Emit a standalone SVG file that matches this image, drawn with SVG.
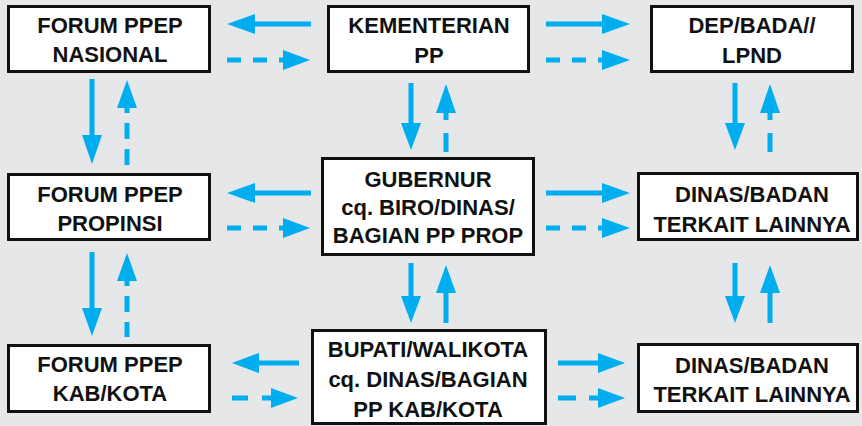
<svg xmlns="http://www.w3.org/2000/svg" width="862" height="426" viewBox="0 0 862 426">
<style>
.box{fill:#fff;stroke:#111;stroke-width:3}
.t{font-family:"Liberation Sans",Arial,sans-serif;font-weight:bold;font-size:22px;fill:#111;text-anchor:middle}
.ln{stroke:#00aeef;stroke-width:5;fill:none}
.dh{stroke:#00aeef;stroke-width:5;fill:none;stroke-dasharray:14 12}
.dv{stroke:#00aeef;stroke-width:5;fill:none;stroke-dasharray:16 10;stroke-dashoffset:10}
.hd{fill:#00aeef}
</style>
<rect width="862" height="426" fill="#e6e7e9"/>
<g id="connectors">
<!-- row 1 -->
<line class="ln" x1="311" y1="24" x2="255" y2="24"/><polygon class="hd" points="255,14 227,24 255,34"/>
<line class="dh" x1="227" y1="60" x2="283" y2="60"/><polygon class="hd" points="283,50 310,60 283,70"/>
<line class="ln" x1="546" y1="24" x2="603" y2="24"/><polygon class="hd" points="602,14 630,24 602,34"/>
<line class="dh" x1="546" y1="60" x2="603" y2="60"/><polygon class="hd" points="602,50 630,60 602,70"/>
<!-- row 2 -->
<line class="ln" x1="311" y1="193" x2="255" y2="193"/><polygon class="hd" points="255,183 227,193 255,203"/>
<line class="dh" x1="227" y1="228" x2="283" y2="228"/><polygon class="hd" points="283,218 310,228 283,238"/>
<line class="ln" x1="546" y1="193" x2="603" y2="193"/><polygon class="hd" points="602,183 630,193 602,203"/>
<line class="dh" x1="546" y1="228" x2="603" y2="228"/><polygon class="hd" points="602,218 630,228 602,238"/>
<!-- row 3 -->
<line class="ln" x1="299" y1="363" x2="258" y2="363"/><polygon class="hd" points="259,353 232,363 259,373"/>
<line class="dh" x1="232" y1="398" x2="271" y2="398" style="stroke-dasharray:16 14"/><polygon class="hd" points="271,388 298,398 271,408"/>
<line class="ln" x1="558" y1="363" x2="599" y2="363"/><polygon class="hd" points="598,353 625,363 598,373"/>
<line class="dh" x1="558" y1="398" x2="599" y2="398" style="stroke-dasharray:18 13"/><polygon class="hd" points="598,388 625,398 598,408"/>
<!-- col 1 -->
<line class="ln" x1="92" y1="79" x2="92" y2="136"/><polygon class="hd" points="82,135 92,164 102,135"/>
<line class="dv" x1="127" y1="107" x2="127" y2="165"/><polygon class="hd" points="117,108 127,80 137,108"/>
<line class="ln" x1="92" y1="252" x2="92" y2="309"/><polygon class="hd" points="82,308 92,336 102,308"/>
<line class="dv" x1="127" y1="280" x2="127" y2="337"/><polygon class="hd" points="117,281 127,253 137,281"/>
<!-- col 2 -->
<line class="ln" x1="411" y1="83" x2="411" y2="124"/><polygon class="hd" points="401,123 411,150 421,123"/>
<line class="dv" x1="446" y1="112" x2="446" y2="152" style="stroke-dasharray:8 13 19 10;stroke-dashoffset:0"/><polygon class="hd" points="436,113 446,84 456,113"/>
<line class="ln" x1="411" y1="263" x2="411" y2="297"/><polygon class="hd" points="401,296 411,323 421,296"/>
<line class="ln" x1="446" y1="292" x2="446" y2="323"/><polygon class="hd" points="436,293 446,265 456,293"/>
<!-- col 3 -->
<line class="ln" x1="735" y1="83" x2="735" y2="124"/><polygon class="hd" points="725,123 735,150 745,123"/>
<line class="dv" x1="770" y1="112" x2="770" y2="152" style="stroke-dasharray:8 13 19 10;stroke-dashoffset:0"/><polygon class="hd" points="760,113 770,84 780,113"/>
<line class="ln" x1="735" y1="263" x2="735" y2="297"/><polygon class="hd" points="725,296 735,323 745,296"/>
<line class="ln" x1="770" y1="292" x2="770" y2="323"/><polygon class="hd" points="760,293 770,265 780,293"/>
</g>
<g id="forum-nasional"><rect class="box" x="8.5" y="6.5" width="201" height="65"/><text class="t" x="110" y="33">FORUM PPEP</text><text class="t" x="110" y="62">NASIONAL</text></g>
<g id="kementerian"><rect class="box" x="328.5" y="6.5" width="200" height="65"/><text class="t" x="429" y="33">KEMENTERIAN</text><text class="t" x="429" y="63">PP</text></g>
<g id="dep-bada"><rect class="box" x="651.5" y="6.5" width="201" height="65"/><text class="t" x="752" y="33">DEP/BADA//</text><text class="t" x="752" y="63">LPND</text></g>
<g id="forum-propinsi"><rect class="box" x="8.5" y="174.5" width="201" height="65"/><text class="t" x="110" y="202">FORUM PPEP</text><text class="t" x="110" y="231">PROPINSI</text></g>
<g id="gubernur"><rect class="box" x="322.5" y="158.5" width="211" height="96"/><text class="t" x="428" y="187">GUBERNUR</text><text class="t" x="428" y="215">cq. BIRO/DINAS/</text><text class="t" x="428" y="243">BAGIAN PP PROP</text></g>
<g id="dinas-badan-1"><rect class="box" x="638.5" y="173.5" width="219" height="66"/><text class="t" x="752" y="202">DINAS/BADAN</text><text class="t" x="752" y="232">TERKAIT LAINNYA</text></g>
<g id="forum-kabkota"><rect class="box" x="8.5" y="345.5" width="201" height="66"/><text class="t" x="110" y="372">FORUM PPEP</text><text class="t" x="110" y="401">KAB/KOTA</text></g>
<g id="bupati"><rect class="box" x="312.5" y="330.5" width="233" height="93"/><text class="t" x="428" y="357">BUPATI/WALIKOTA</text><text class="t" x="428" y="387">cq. DINAS/BAGIAN</text><text class="t" x="428" y="417">PP KAB/KOTA</text></g>
<g id="dinas-badan-2"><rect class="box" x="638.5" y="344.5" width="219" height="67"/><text class="t" x="752" y="373">DINAS/BADAN</text><text class="t" x="752" y="402">TERKAIT LAINNYA</text></g>
</svg>
